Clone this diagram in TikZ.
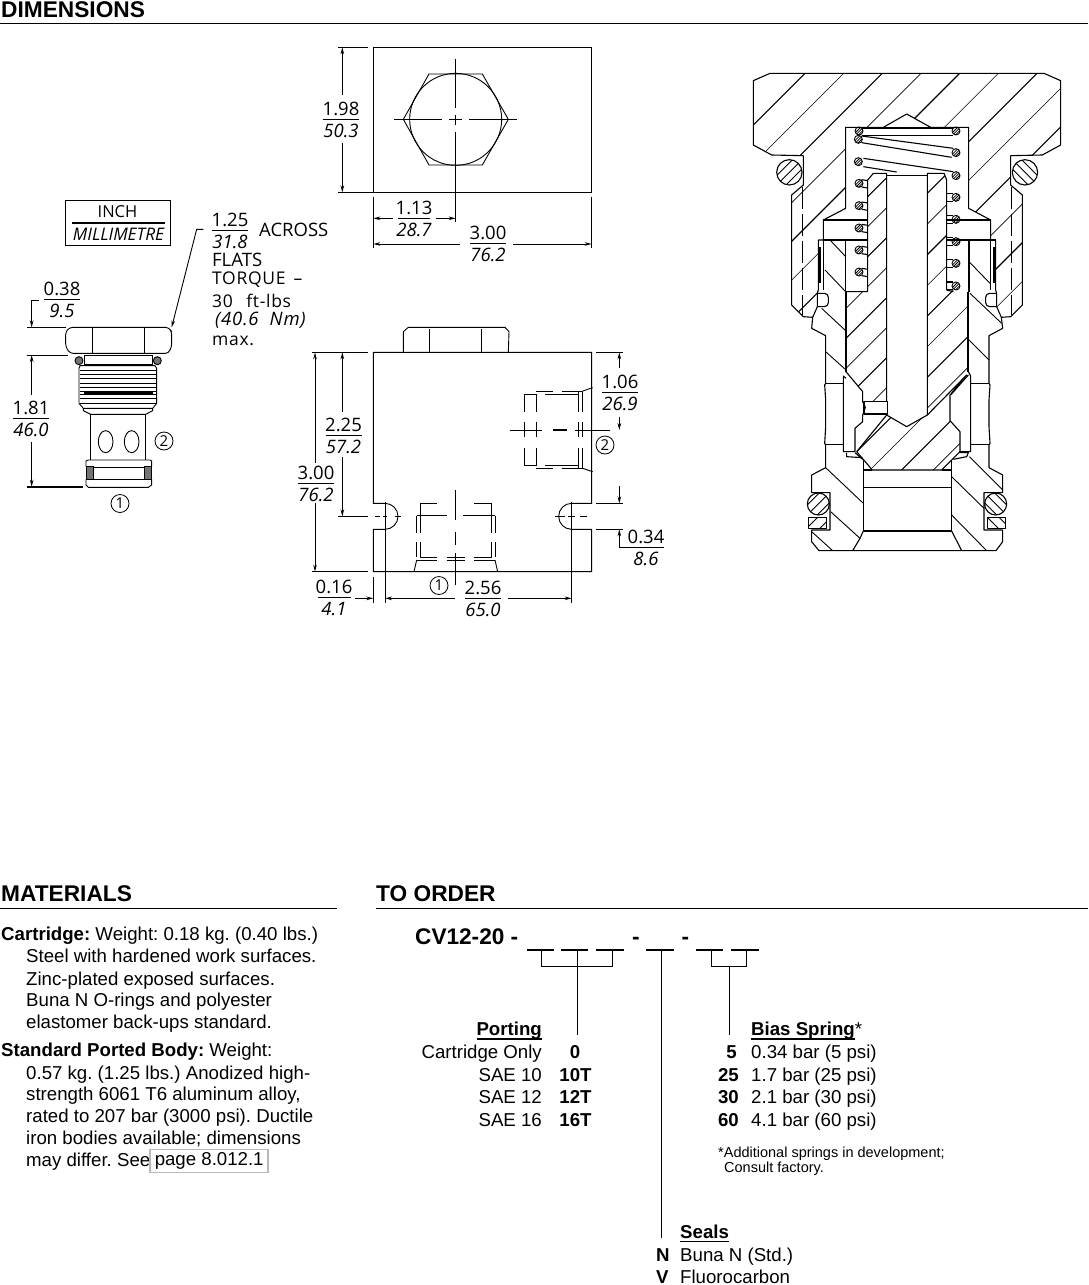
\documentclass[tikz,border=0pt]{standalone}
\usepackage{fontspec}
\setmainfont{Liberation Sans}
\newfontfamily\cadfont{Open Sans}
\newfontfamily\cadsp{Open Sans}[LetterSpace=4]
\usetikzlibrary{arrows.meta}
\definecolor{boxgray}{gray}{0.72}
\frenchspacing
\newcommand\rhatch[4]{\begin{scope}\clip #1;\foreach \k in {0,...,#4}{\pgfmathsetmacro\cc{#2+\k*#3}\pgfmathsetmacro\lw{mod(\k,2)==0?1.1:0.6}\draw[line width=\lw pt] (\cc+1000,-1000)--(\cc-3000,3000);}\end{scope}}
% dimension fraction: name, x, rule y, half width, top, bottom, rule width
\newcommand\dimf[7]{\node[cadt] (#1t) at (#2,#3-10.5) {#5};\node[cadi] (#1b) at (#2,#3+11.5) {#6};\draw[line width=#7pt] (#2-#4,#3)--(#2+#4,#3);}
\newcommand\tl[4]{\node[txt,anchor=base west] (#1) at (#2,#3) {#4};}
\newcommand\tr[4]{\node[txt,anchor=base east] (#1) at (#2,#3) {#4};}
\tikzset{
 x=1pt,y=-1pt,
 >={Stealth[length=7pt,width=3.6pt]},
 cadt/.style={inner sep=0,font=\cadfont\fontsize{18.5}{18.5}\selectfont},
 cadi/.style={inner sep=0,font=\cadfont\itshape\fontsize{18.5}{18.5}\selectfont},
 cadb/.style={inner sep=0,anchor=west,font=\cadsp\fontsize{17.5}{17.5}\selectfont},
 txt/.style={inner sep=0,font=\fontsize{18.65}{18.65}\selectfont},
 boldt/.style={txt,anchor=base,font=\bfseries\fontsize{18.65}{18.65}\selectfont},
 head/.style={inner sep=0,anchor=base west,font=\bfseries\fontsize{22.7}{22.7}\selectfont},
 circnum/.style={draw,circle,inner sep=0,minimum size=18pt,line width=.8pt,font=\cadfont\fontsize{15}{15}\selectfont},
 dm/.style={line width=.9pt},
 sec/.style={line width=1.1pt,line join=round},
 z1/.style={shift={(740,60)},scale=1/3},
 z2/.style={shift={(790,300)},scale=1/3},
 z3/.style={shift={(0,190)},scale=1/3},
 z4/.style={shift={(300,320)},scale=1/3},
 z5/.style={shift={(310,40)},scale=1/3},
}
\begin{document}
\begin{tikzpicture}
\useasboundingbox (0,0) rectangle (1088,1285);
\fill[white] (0,0) rectangle (1088,1285);
% headers
\node[head] (hdim) at (1,17) {DIMENSIONS};
\draw[line width=1pt] (0,23)--(1088,23);
\node[head] (hmat) at (1,901.5) {MATERIALS};
\draw[line width=1pt] (0,908.5)--(337,908.5);
\node[head] (hord) at (376,901.5) {TO ORDER};
\draw[line width=1pt] (376,908.5)--(1088,908.5);

% ---- top view
\begin{scope}[z5]
\draw[dm] (190,22) rectangle (845,457);
\draw[dm] (357,102)--(517,102)--(595,238)--(517,375)--(357,375)--(280,238)--cycle;
\draw[dm] (437,238) circle[radius=138];
\draw[dm] (252,238)--(395,238) (418,238)--(455,238) (478,238)--(620,238);
\draw[dm] (437,57)--(437,205) (437,225)--(437,255) (437,275)--(437,545);
\draw[dm] (85,22)--(175,22) (85,457)--(190,457);
\draw[dm,<-] (97,22)--(97,165);
\draw[dm,->] (97,310)--(97,457);
\draw[dm] (190,470)--(190,625) (845,470)--(845,625);
\draw[dm,<-] (190,612)--(450,612);
\draw[dm,->] (610,612)--(845,612);
\draw[dm,<-] (190,535)--(250,535);
\draw[dm,->] (378,535)--(437,535);
\end{scope}
\dimf{a}{341}{119}{18}{1.98}{50.3}{.9}
\dimf{b}{414}{218}{16}{1.13}{28.7}{.9}
\dimf{c}{488}{243.5}{18}{3.00}{76.2}{1.8}

% ---- legend box
\draw[dm] (65.7,200) rectangle (170,245);
\node[inner sep=0,font=\cadfont\fontsize{16.5}{16.5}\selectfont] (inch) at (117.5,211.5) {INCH};
\draw[line width=1.7pt] (71.7,222.7)--(165,222.7);
\node[inner sep=0,font=\cadfont\itshape\fontsize{17.3}{17.3}\selectfont] (mm) at (118.5,234) {MILLIMETRE};

% ---- flats note
\dimf{d}{230}{230.5}{18}{1.25}{31.8}{.9}
\node[cadt,anchor=west] (across) at (259,230) {ACROSS};
\node[cadt,anchor=west] (flats) at (212,259.5) {FLATS};
\node[cadb] (torque) at (212,279.5) {TORQUE \,–};
\node[cadb] (ftlbs) at (212,300.5) {30\ \ \,ft-lbs};
\node[cadb,font=\cadsp\itshape\fontsize{18.5}{18.5}\selectfont] (nm) at (215,320) {(40.6\ \ Nm)};
\node[cadb] (maxt) at (212,340.5) {max.};

% ---- cartridge outside view
\begin{scope}[z3]
\draw[dm,->] (610,118)--(590,118)--(515,412);
\draw[dm,rounded corners=3pt] (197,425)--(210,412)--(505,412)--(515,425)--(515,470)--(505,490)--(210,490)--(197,470)--cycle;
\draw[dm] (277,415)--(277,490) (432,415)--(432,490);
\draw[dm] (253,497) rectangle (458,522);
\draw[dm,fill=black!55] (237,512) circle[radius=12];
\draw[dm,fill=black!55] (472,512) circle[radius=12];
\draw[dm] (240,527)--(465,527)--(470,535)--(470,640)--(458,655)--(250,655)--(237,640)--(237,535)--cycle;
\foreach \yy in {540,553,566,579,592,605,612,625,640} \draw[dm] (240,\yy)--(468,\yy);
\draw[line width=1.8pt] (252,608)--(458,608);
\draw[dm] (250,655)--(250,662)--(272,673)--(437,673)--(458,662)--(458,655);
\draw[dm] (272,673)--(272,810) (437,673)--(437,810);
\draw[dm] (317,755) ellipse[x radius=22,y radius=33];
\draw[dm] (395,755) ellipse[x radius=22,y radius=33];
\draw[dm] (258,830)--(258,813)--(265,810)--(450,810)--(455,813)--(455,830);
\draw[dm] (280,832) rectangle (432,868);
\draw[dm,fill=black!55] (258,830) rectangle (280,868);
\draw[dm,fill=black!55] (432,830) rectangle (455,868);
\draw[dm] (258,868)--(258,885)--(265,892)--(445,892)--(455,885)--(455,868);
\draw[line width=1.8pt] (80,890)--(250,890);
\draw[dm] (80,412)--(197,412) (80,495)--(205,495);
\draw[dm,->] (118,330)--(95,330)--(95,412);
\draw[dm,<-] (95,495)--(95,615);
\draw[dm,->] (95,757)--(95,890);
\end{scope}
\dimf{e}{62}{299}{18}{0.38}{9.5}{.9}
\dimf{f}{31}{418.5}{18}{1.81}{46.0}{.9}
\node[circnum] (p1a) at (120,503.5) {1};
\node[circnum] (p2a) at (164,441) {2};

% ---- ported body
\begin{scope}[z4]
\draw[dm] (220,550)--(220,97)--(875,97)--(875,550)--(815,550) arc[start angle=-90,end angle=-270,radius=39]--(875,628)--(875,755)--(220,755)--(220,628)--(255,628) arc[start angle=90,end angle=-90,radius=39]--cycle;
\draw[dm] (310,97)--(310,35)--(325,22)--(615,22)--(627,35)--(625,97);
\draw[dm] (388,28)--(388,97) (545,28)--(545,97);
% right port
\draw[dm] (708,213)--(760,213) (785,213)--(848,213) (672,222)--(710,222) (735,222)--(835,222);
\draw[dm] (708,445)--(760,445) (785,445)--(848,445) (672,437)--(710,437) (735,437)--(835,437);
\foreach \xx in {672,708}{\draw[dm] (\xx,222)--(\xx,275) (\xx,305)--(\xx,352) (\xx,385)--(\xx,437);}
\foreach \xx in {835,848}{\draw[dm] (\xx,213)--(\xx,275) (\xx,305)--(\xx,352) (\xx,385)--(\xx,445);}
\draw[dm] (848,213)--(878,203) (848,445)--(878,455);
\draw[dm] (630,330)--(725,330) (825,330)--(930,330);
\draw[line width=1.5pt] (760,330)--(800,330);
% bottom port
\draw[dm] (360,550)--(410,550) (522,550)--(575,550) (350,587)--(440,587) (490,587)--(585,587);
\foreach \xx in {350,360,575,585}{\draw[dm] (\xx,587)--(\xx,640) (\xx,665)--(\xx,712);}
\draw[dm] (360,550)--(360,587) (575,550)--(575,587);
\draw[dm] (360,712)--(410,712) (440,712)--(495,712) (522,712)--(575,712);
\draw[dm] (350,720)--(410,720) (440,720)--(495,720) (522,720)--(585,720);
\draw[dm] (350,720)--(342,755) (585,720)--(593,755);
\draw[dm] (467,510)--(467,600) (467,635)--(467,675) (467,700)--(467,795);
% mounting holes
\draw[dm] (255,545)--(255,850) (815,545)--(815,850);
\draw[dm] (115,589)--(205,589) (225,589)--(240,589) (250,589)--(262,589) (285,589)--(302,589);
\draw[dm] (765,589)--(795,589) (805,589)--(825,589) (840,589)--(862,589);
% dims
\draw[dm] (35,97)--(205,97) (35,755)--(205,755);
\draw[dm,<-] (45,97)--(45,430);
\draw[dm,->] (45,550)--(45,755);
\draw[dm,<-] (127,97)--(127,275);
\draw[dm,->] (127,410)--(127,589);
\draw[dm] (888,97)--(970,97) (888,550)--(970,550) (888,628)--(970,628);
\draw[dm,<-] (958,97)--(958,145);
\draw[dm,->] (958,290)--(958,330);
\draw[dm,->] (958,498)--(958,550);
\draw[dm,->] (985,682)--(958,682)--(958,628);
\draw[dm] (220,770)--(220,848);
\draw[dm,->] (165,835)--(220,835);
\draw[dm,<-] (255,835)--(465,835);
\draw[dm,->] (625,835)--(815,835);
\end{scope}
\dimf{g}{343.5}{435}{18}{2.25}{57.2}{.9}
\dimf{h}{316}{483.5}{18}{3.00}{76.2}{1.8}
\dimf{i}{620}{392}{18}{1.06}{26.9}{.9}
\dimf{j}{646}{547}{18}{0.34}{8.6}{.9}
\dimf{k}{334}{597.5}{16.5}{0.16}{4.1}{.9}
\dimf{l}{483}{598}{18}{2.56}{65.0}{.9}
\node[circnum] (p1b) at (439,585.5) {1};
\node[circnum] (p2b) at (605,445) {2};

% ---- section: upper part
\begin{scope}[z1]
\def\Rone{(40,62)--(90,40)--(912,40)--(962,62)--(962,255)--(907,285)--(812,287)--(812,375)--(847,405)--(847,735)--(812,770)--(784,772)--(770,740)--(770,700)--(767,690)--(767,540)--(752,540)--(752,480)--(686,445)--(686,202)--(572,202)--(500,162)--(430,202)--(317,202)--(317,445)--(250,480)--(250,540)--(235,540)--(235,690)--(232,700)--(232,740)--(218,772)--(190,770)--(155,735)--(155,405)--(190,375)--(190,287)--(95,285)--(40,255)--cycle}
\rhatch{\Rone}{235}{116}{14}
\draw[sec] \Rone;
\draw[sec] (430,202)--(572,202);
\draw[dm,dashed,dash pattern=on 22pt off 5pt] (187,380)--(187,765) (815,380)--(815,765);
\begin{scope}\clip (148,337) circle[radius=38];\foreach \cc in {457,485,513}{\draw[line width=.9pt] (\cc+300,-300)--(\cc-500,500);}\end{scope}
\draw[sec] (148,337) circle[radius=38];
\begin{scope}\clip (855,337) circle[radius=38];\foreach \cc in {490,518,546}{\draw[line width=.9pt] (\cc+800,800)--(\cc-500,-500);}\end{scope}
\draw[sec] (855,337) circle[radius=38];
\draw[sec] (365,204)--(640,204) (365,226)--(640,226);
\draw[sec] (365,228)--(640,265) (365,248)--(635,292);
\draw[sec] (370,295)--(640,335) (370,320)--(470,336);
\foreach \yy in {370,437,504,570,636}{\draw[sec] (365,\yy-11)--(383,\yy-8) (365,\yy+11)--(383,\yy+14);}
\foreach \yy in {412,478,545,610,678}{\draw[sec] (620,\yy-12)--(640,\yy-12) (620,\yy+12)--(640,\yy+12);}
\foreach \px/\py in {357/213,355/238,355/305,357/370,357/437,357/504,357/570,357/636,648/213,648/278,648/347,648/412,648/478,648/545,648/610,648/678}{
 \begin{scope}\clip (\px,\py) circle[radius=12];\foreach \dd in {-6,2,10}{\draw[line width=.8pt] (\px+\dd+20,\py-20)--(\px+\dd-20,\py+20);}\end{scope}
 \draw[line width=.9pt] (\px,\py) circle[radius=12];}
\draw[sec] (250,480)--(383,480) (620,480)--(752,480);
\draw[sec] (250,540)--(383,540) (620,540)--(767,540);
\draw[sec] (250,540)--(250,690) (752,540)--(752,690);
\draw[sec] (317,540)--(317,695) (687,540)--(687,695);
\draw[sec] (240,560)--(240,670) (762,560)--(762,670);
\draw[sec,rounded corners=4pt] (232,700)--(265,700)--(265,740)--(232,740);
\draw[sec,rounded corners=4pt] (770,700)--(737,700)--(737,740)--(770,740);
\draw[dm] (270,540)--(317,590) (255,630)--(317,695) (687,605)--(750,670);
\draw[dm] (245,745)--(317,812) (690,700)--(785,790);
\end{scope}

% ---- section: centre and lower part
\begin{scope}[z2]
\def\Pl{(233,-360)--(250,-380)--(290,-380)--(290,305)--(222,305)--(218,275)--(168,215)--(167,-25)--(233,-25)--cycle}
\def\Pr{(470,-360)--(462,-380)--(412,-380)--(412,345)--(535,215)--(535,-25)--(470,-30)--cycle}
\fill[white] \Pl; \fill[white] \Pr;
\rhatch{\Pl}{-77}{90}{8}
\rhatch{\Pr}{92}{92}{8}
\draw[sec] (233,-25)--(233,-360)--(250,-380)--(290,-380)--(290,305);
\draw[sec] (470,-30)--(470,-360)--(462,-380)--(412,-380)--(412,345);
\draw[sec] (167,-25)--(233,-25) (470,-30)--(490,-25);
\draw[sec] (290,-373)--(412,-373);
\draw[line width=1.8pt] (168,-25)--(168,215) (535,-25)--(535,215);
\def\Lp{(200,455)--(247,510)--(455,510)--(510,455)--(510,395)--(480,362)--(480,285)--(530,225)--(412,345)--(350,380)--(290,345)--cycle}
\rhatch{\Lp}{655}{95}{4}
\draw[sec] \Lp;
\draw[sec] (222,305) rectangle (292,342);
\draw[sec] (168,215)--(218,275)--(218,305)--(226,322)--(218,345)--(218,365)--(195,385)--(195,455)--(160,455)--(160,228)--(168,235);
\draw[sec] (535,215)--(542,228)--(542,455)--(508,455);
\draw[sec] (482,285)--(535,225);
\draw[sec] (170,458)--(170,470)--(217,473) (195,458)--(218,478);
\draw[sec] (490,478)--(530,470)--(535,458)--(508,458);
\draw[sec] (220,478)--(220,693)--(485,693)--(485,480);
\draw[sec] (220,562)--(485,562) (220,510)--(247,510) (455,510)--(485,510);
\draw[sec] (220,693)--(210,715)--(188,752) (485,693)--(515,752);
\draw[sec] (68,52)--(65,85)--(107,107)--(107,250)--(104,255)--(107,300)--(107,380)--(104,430)--(107,435)--(107,503)--(65,525)--(65,578)--(120,578)--(120,690)--(65,690)--(65,725)--(87,752)--(618,752)--(638,725)--(638,690)--(582,690)--(582,578)--(638,578)--(638,525)--(597,503)--(597,435)--(600,430)--(597,380)--(597,300)--(600,255)--(597,250)--(597,107)--(638,85)--(634,52);
\draw[sec] (107,250)--(160,250) (107,433)--(160,433) (542,250)--(597,250) (542,433)--(597,433);
\draw[dm] (107,155)--(168,210) (535,118)--(597,180);
\draw[dm] (107,503)--(220,610) (122,635)--(210,715) (65,695)--(128,752);
\draw[dm] (485,530)--(582,625) (485,645)--(590,752) (538,470)--(638,570);
\begin{scope}\clip (85,612) circle[radius=33];\foreach \cc in {667,697,727}{\draw[line width=.9pt] (\cc+100,-100)--(\cc-800,800);}\end{scope}
\draw[sec] (85,612) circle[radius=33];
\begin{scope}\clip (617,612) circle[radius=33];\foreach \cc in {-25,5,35}{\draw[line width=.9pt] (\cc-100,-100)--(\cc+900,900);}\end{scope}
\draw[sec] (617,612) circle[radius=33];
\draw[sec] (55,652) rectangle (110,685);
\begin{scope}\clip (55,652) rectangle (110,685);\foreach \cc in {735,775}{\draw[line width=.9pt] (\cc+100,-100)--(\cc-800,800);}\end{scope}
\draw[sec] (592,652) rectangle (647,685);
\begin{scope}\clip (592,652) rectangle (647,685);\foreach \cc in {-60,-25}{\draw[line width=.9pt] (\cc-100,-100)--(\cc+900,900);}\end{scope}
\end{scope}

% ---- materials
\tl{m1}{1}{940}{\textbf{Cartridge:} Weight: 0.18 kg. (0.40 lbs.)}
\tl{m2}{26}{962.5}{Steel with hardened work surfaces.}
\tl{m3}{26}{985}{Zinc-plated exposed surfaces.}
\tl{m4}{26}{1006.5}{Buna N O-rings and polyester}
\tl{m5}{26}{1028.5}{elastomer back-ups standard.}
\tl{m6}{1}{1056.5}{\textbf{Standard Ported Body:} Weight:}
\tl{m7}{26}{1079}{0.57 kg. (1.25 lbs.) Anodized high-}
\tl{m8}{26}{1100.5}{strength 6061 T6 aluminum alloy,}
\tl{m9}{26}{1122.5}{rated to 207 bar (3000 psi). Ductile}
\tl{m10}{26}{1144.5}{iron bodies available; dimensions}
\tl{m11}{26}{1166.5}{may differ. See}
\node[txt,draw=boxgray,line width=1.6pt,minimum width=118pt,minimum height=23pt] (pg) at (209.2,1161) {page 8.012.1};

% ---- to order
\node[inner sep=0,anchor=base west,font=\bfseries\fontsize{22.6}{22.6}\selectfont] (cv) at (415,944.5) {CV12-20 -};
\foreach \aa/\bb in {526.7/554.3,561/588.3,596/624,646/673.7,696/723.3,731/759}{\draw[line width=1.8pt] (\aa,950)--(\bb,950);}
\node[inner sep=0,anchor=base,font=\bfseries\fontsize{22.6}{22.6}\selectfont] (hy1) at (635.8,944.5) {-};
\node[inner sep=0,anchor=base,font=\bfseries\fontsize{22.6}{22.6}\selectfont] (hy2) at (685.5,944.5) {-};
\draw[dm] (541.7,951)--(541.7,966)--(612.3,966)--(612.3,951);
\draw[dm] (577.3,951)--(577.3,1035);
\draw[dm] (661.5,951)--(661.5,1238);
\draw[dm] (711.7,951)--(711.7,966)--(746.7,966)--(746.7,951);
\draw[dm] (729.3,966)--(729.3,1035);
\tr{port}{542}{1035.5}{\textbf{Porting}}
\draw[line width=1.5pt] (477,1039)--(542,1039);
\tr{pa}{542}{1058}{Cartridge Only}
\tr{pb}{542}{1081}{SAE 10}
\tr{pc}{542}{1103.5}{SAE 12}
\tr{pd}{542}{1126.5}{SAE 16}
\node[boldt] (qa) at (575,1058) {0};
\node[boldt] (qb) at (575.5,1081) {10T};
\node[boldt] (qc) at (575.5,1103.5) {12T};
\node[boldt] (qd) at (575.5,1126.5) {16T};
\tl{bias}{751}{1035.5}{\textbf{Bias Spring}*}
\draw[line width=1.5pt] (751,1039)--(855,1039);
\tr{ba}{737}{1058}{\textbf{5}}
\tr{bb}{739}{1081}{\textbf{25}}
\tr{bc}{739}{1103.5}{\textbf{30}}
\tr{bd}{739}{1126.5}{\textbf{60}}
\tl{ca}{751}{1058}{0.34 bar (5 psi)}
\tl{cb}{751}{1081}{1.7 bar (25 psi)}
\tl{cc}{751}{1103.5}{2.1 bar (30 psi)}
\tl{cd}{751}{1126.5}{4.1 bar (60 psi)}
\node[inner sep=0,anchor=base west,font=\fontsize{14.5}{14.5}\selectfont] (fn1) at (718,1157) {*Additional springs in development;};
\node[inner sep=0,anchor=base west,font=\fontsize{14.5}{14.5}\selectfont] (fn2) at (724,1172) {Consult factory.};
\tl{seal}{680}{1238}{\textbf{Seals}}
\draw[line width=1.5pt] (680,1241.5)--(729,1241.5);
\tl{sa}{656}{1261}{\textbf{N}}
\tl{sb}{656}{1283}{\textbf{V}}
\tl{sc}{680}{1261}{Buna N (Std.)}
\tl{sd}{680}{1283}{Fluorocarbon}
\end{tikzpicture}
\end{document}
